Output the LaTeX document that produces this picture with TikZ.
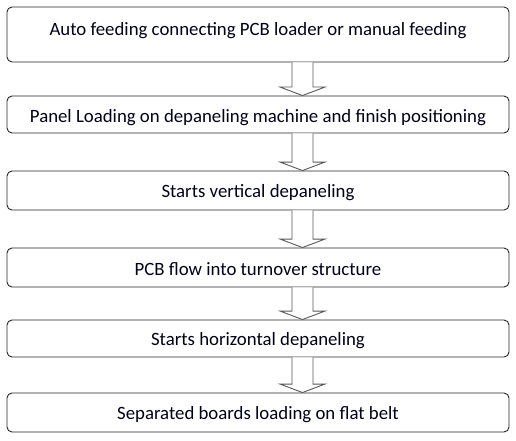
\documentclass[tikz,border=0pt]{standalone}
\usepackage{fontspec}
\setmainfont{Carlito}
\usetikzlibrary{calc}
\tikzset{
  stepbox/.style={draw=black!85, line width=0.9pt, rounded corners=5pt, minimum width=502pt, inner sep=0pt},
  lbl/.style={font=\fontsize{18.8}{22}\selectfont, text=black!90!blue, inner sep=0pt},
  arr/.style={draw=black!65, line width=0.9pt, fill=white}
}
\newcommand\blockarrow[2]{%
  \draw[arr] let \p1=(#1.south), \p2=(#2.north) in
    (292pt,\y1) -- (292pt,\y2+8.5pt) -- (280pt,\y2+8.5pt) -- (302.5pt,\y2)
    -- (325pt,\y2+8.5pt) -- (313pt,\y2+8.5pt) -- (313pt,\y1);}
\begin{document}
\begin{tikzpicture}[x=1pt,y=-1pt]
\useasboundingbox (0,0) rectangle (516,441);
\node[stepbox, minimum height=55pt] (b1) at (258,34.5) {};
\node[stepbox, minimum height=37pt] (b2) at (258,114.5) {};
\node[stepbox, minimum height=39pt] (b3) at (258,190.5) {};
\node[stepbox, minimum height=39pt] (b4) at (258,267.5) {};
\node[stepbox, minimum height=37pt] (b5) at (258,338.5) {};
\node[stepbox, minimum height=39pt] (b6) at (258,412.5) {};
\node[lbl] (t1) at (258,31) {Auto feeding connecting PCB loader or manual feeding};
\node[lbl] (t2) at (258,117.5) {Panel Loading on depaneling machine and finish positioning};
\node[lbl] (t3) at (258,192.5) {Starts vertical depaneling};
\node[lbl] (t4) at (258,269.5) {PCB flow into turnover structure};
\node[lbl] (t5) at (258,340.5) {Starts horizontal depaneling};
\node[lbl] (t6) at (258,414.5) {Separated boards loading on flat belt};
\blockarrow{b1}{b2}
\blockarrow{b2}{b3}
\blockarrow{b3}{b4}
\blockarrow{b4}{b5}
\blockarrow{b5}{b6}
\end{tikzpicture}
\end{document}
